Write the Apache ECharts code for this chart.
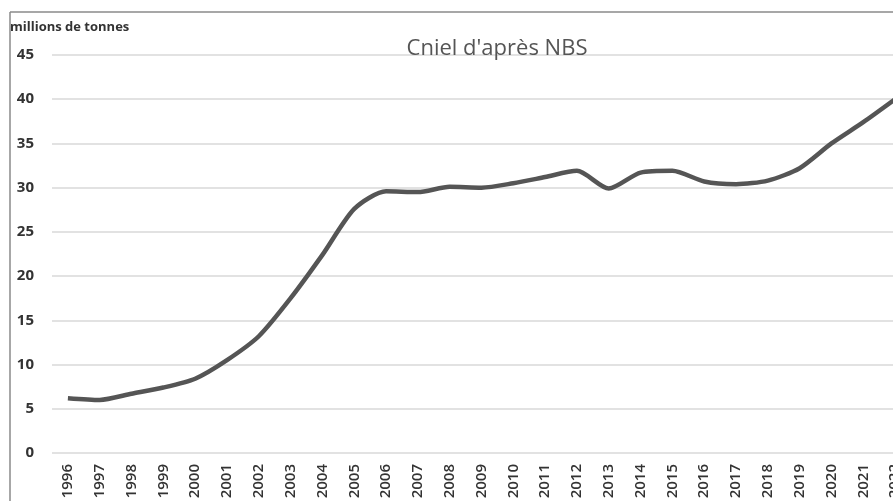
<!DOCTYPE html>
<html>
<head>
<meta charset="utf-8">
<script src="https://cdn.jsdelivr.net/npm/echarts@6/dist/echarts.min.js"></script>
<style>
html,body{margin:0;padding:0;background:#fff;overflow:hidden;}
#chart{width:893px;height:501px;}
</style>
</head>
<body>
<div id="chart"></div>
<script>
var years = ['1996','1997','1998','1999','2000','2001','2002','2003','2004','2005','2006','2007','2008','2009','2010','2011','2012','2013','2014','2015','2016','2017','2018','2019','2020','2021','2022'];
var production = [6.2,6.0,6.7,7.4,8.4,10.5,13.2,17.5,22.4,27.6,29.6,29.5,30.1,30.0,30.5,31.2,31.9,29.9,31.7,31.9,30.7,30.4,30.8,32.2,35.0,37.4,40.0];
var yTicks = {min:0, max:45, interval:5};
var titleText = "Cniel d'après NBS";
var unitText = 'millions de tonnes';

var chart = echarts.init(document.getElementById('chart'));
chart.setOption({
  animation:false,
  backgroundColor:'#fff',
  grid:{left:52, width:859, top:55, height:398, containLabel:false, outerBoundsMode:'none'},
  title:{text:titleText, left:492, top:33, textAlign:'center',
    textStyle:{fontFamily:'"Open Sans", sans-serif', fontSize:22, fontWeight:'normal', color:'#555'}},
  graphic:[
    {type:'line', shape:{x1:10,y1:12,x2:893,y2:12}, style:{stroke:'#8a8a8a', lineWidth:1.5}, silent:true},
    {type:'line', shape:{x1:10,y1:12,x2:10,y2:501}, style:{stroke:'#8a8a8a', lineWidth:1.5}, silent:true},
    {type:'text', left:10, top:21, style:{text:unitText, font:'bold 13px "Open Sans", sans-serif', fill:'#333'}}
  ],
  xAxis:{
    type:'category', data:years, boundaryGap:true,
    axisLine:{show:false}, axisTick:{show:false},
    axisLabel:{rotate:90, margin:11, color:'#333', fontSize:15, fontWeight:600, fontFamily:'"Open Sans", sans-serif'}
  },
  yAxis:{
    type:'value', min:yTicks.min, max:yTicks.max, interval:yTicks.interval,
    axisLine:{show:false}, axisTick:{show:false},
    axisLabel:{margin:18, color:'#333', fontSize:15, fontWeight:'bold', fontFamily:'"Open Sans", sans-serif'},
    splitLine:{lineStyle:{color:'#e2e2e2', width:2}}
  },
  series:[{
    type:'line', data:production, smooth:0.25, symbol:'none',
    lineStyle:{color:'#555', width:4.5}
  }]
});
</script>
</body>
</html>
